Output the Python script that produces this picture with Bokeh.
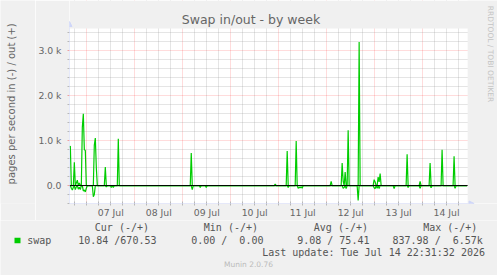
import math
import pandas as pd
from bokeh.plotting import figure
from bokeh.layouts import column, row
from bokeh.models import (Range1d, FixedTicker, Span, Label, BoxAnnotation,
                          Arrow, NormalHead)
from bokeh.embed import file_html
from bokeh.resources import INLINE

# ---------------- data ----------------
title_text = "Swap in/out - by week"
y_label = "pages per second in (-) / out (+)"
series_name = "swap"
series_color = "#00CC00"

range_start = "2026-07-06 15:20"
range_end = "2026-07-14 22:32"
y_min, y_max = -400, 3500

out_times = [
    "2026-07-06 15:15", "2026-07-06 15:45", "2026-07-06 16:15", "2026-07-06 17:15",
    "2026-07-06 17:45", "2026-07-06 18:15", "2026-07-06 18:45", "2026-07-06 19:15",
    "2026-07-06 19:45", "2026-07-06 20:15", "2026-07-06 20:45", "2026-07-06 21:15",
    "2026-07-06 21:45", "2026-07-06 22:15", "2026-07-06 22:45", "2026-07-06 23:15",
    "2026-07-06 23:45", "2026-07-07 03:15", "2026-07-07 03:45", "2026-07-07 04:15",
    "2026-07-07 04:45", "2026-07-07 05:15", "2026-07-07 08:45", "2026-07-07 09:15",
    "2026-07-07 09:45", "2026-07-07 15:15", "2026-07-07 15:45", "2026-07-07 16:15",
    "2026-07-09 03:45", "2026-07-09 04:15", "2026-07-09 04:45", "2026-07-10 21:45",
    "2026-07-10 22:15", "2026-07-10 22:45", "2026-07-11 03:45", "2026-07-11 04:15",
    "2026-07-11 04:45", "2026-07-11 08:15", "2026-07-11 08:45", "2026-07-11 09:15",
    "2026-07-12 01:45", "2026-07-12 02:15", "2026-07-12 02:45", "2026-07-12 07:15",
    "2026-07-12 07:45", "2026-07-12 08:15", "2026-07-12 08:45", "2026-07-12 09:15",
    "2026-07-12 09:45", "2026-07-12 10:15", "2026-07-12 10:45", "2026-07-12 11:15",
    "2026-07-12 15:45", "2026-07-12 16:15", "2026-07-12 16:45", "2026-07-12 23:15",
    "2026-07-12 23:45", "2026-07-13 00:15", "2026-07-13 00:45", "2026-07-13 01:15",
    "2026-07-13 01:45", "2026-07-13 02:15", "2026-07-13 02:45", "2026-07-13 03:15",
    "2026-07-13 15:45", "2026-07-13 16:15", "2026-07-13 16:45", "2026-07-13 22:15",
    "2026-07-13 22:45", "2026-07-13 23:15", "2026-07-14 03:15", "2026-07-14 03:45",
    "2026-07-14 04:15", "2026-07-14 09:15", "2026-07-14 09:45", "2026-07-14 10:15",
    "2026-07-14 15:15", "2026-07-14 15:45", "2026-07-14 16:15", "2026-07-14 22:15",
]
out_vals = [
    850, 880, 0, 0,
    520, 0, 60, 120,
    0, 60, 0, 0,
    1300, 1600, 800, 780,
    0, 0, 900, 1060,
    400, 0, 0, 410,
    0, 0, 1040, 0,
    0, 725, 0, 0,
    30, 0, 0, 770,
    0, 0, 990, 0,
    0, 95, 0, 0,
    500, 100, 0, 300,
    0, 0, 1230, 0,
    0, 3200, 0, 0,
    130, 80, 0, 0,
    190, 80, 265, 0,
    0, 695, 0, 0,
    95, 0, 0, 500,
    0, 0, 800, 0,
    0, 650, 0, 0,
]

in_times = [
    "2026-07-06 15:15", "2026-07-06 15:45", "2026-07-06 16:15", "2026-07-06 16:45",
    "2026-07-06 17:15", "2026-07-06 17:45", "2026-07-06 18:15", "2026-07-06 18:45",
    "2026-07-06 19:15", "2026-07-06 19:45", "2026-07-06 20:15", "2026-07-06 20:45",
    "2026-07-06 21:15", "2026-07-06 21:45", "2026-07-06 22:15", "2026-07-06 22:45",
    "2026-07-06 23:15", "2026-07-06 23:45", "2026-07-07 00:15", "2026-07-07 02:45",
    "2026-07-07 03:15", "2026-07-07 03:45", "2026-07-07 04:15", "2026-07-07 09:15",
    "2026-07-07 09:45", "2026-07-07 10:15", "2026-07-07 11:45", "2026-07-07 12:15",
    "2026-07-07 12:45", "2026-07-07 13:15", "2026-07-07 13:45", "2026-07-09 04:15",
    "2026-07-09 04:45", "2026-07-09 05:15", "2026-07-09 08:15", "2026-07-09 08:45",
    "2026-07-09 09:15", "2026-07-09 11:15", "2026-07-09 11:45", "2026-07-09 12:15",
    "2026-07-11 04:15", "2026-07-11 04:45", "2026-07-11 05:15", "2026-07-11 09:15",
    "2026-07-11 09:45", "2026-07-11 10:15", "2026-07-11 10:45", "2026-07-11 11:15",
    "2026-07-11 11:45", "2026-07-11 12:15", "2026-07-12 07:45", "2026-07-12 08:15",
    "2026-07-12 08:45", "2026-07-12 09:15", "2026-07-12 09:45", "2026-07-12 10:15",
    "2026-07-12 15:15", "2026-07-12 15:45", "2026-07-12 16:15", "2026-07-12 23:15",
    "2026-07-12 23:45", "2026-07-13 00:15", "2026-07-13 00:45", "2026-07-13 01:15",
    "2026-07-13 01:45", "2026-07-13 02:15", "2026-07-13 02:45", "2026-07-13 09:15",
    "2026-07-13 09:45", "2026-07-13 10:15", "2026-07-13 16:15", "2026-07-13 16:45",
    "2026-07-13 17:15", "2026-07-13 22:15", "2026-07-13 22:45", "2026-07-13 23:15",
    "2026-07-14 03:45", "2026-07-14 04:15", "2026-07-14 04:45", "2026-07-14 15:45",
    "2026-07-14 16:15", "2026-07-14 16:45", "2026-07-14 22:15",
]
in_vals = [
    0, 0, 60, 100,
    40, 0, 90, 30,
    0, 80, 40, 90,
    0, 0, 120, 100,
    140, 60, 0, 0,
    250, 200, 0, 0,
    30, 0, 0, 40,
    0, 40, 0, 0,
    90, 0, 0, 40,
    0, 0, 40, 0,
    0, 40, 0, 0,
    60, 40, 50, 30,
    60, 0, 0, 60,
    40, 0, 70, 0,
    0, 330, 0, 0,
    50, 70, 0, 60,
    0, 70, 0, 0,
    70, 0, 0, 40,
    0, 0, 60, 0,
    0, 50, 0, 0,
    60, 0, 0,
]

day_noons = ["2026-07-07 12:00", "2026-07-08 12:00", "2026-07-09 12:00", "2026-07-10 12:00",
             "2026-07-11 12:00", "2026-07-12 12:00", "2026-07-13 12:00", "2026-07-14 12:00"]
day_labels = ["07 Jul", "08 Jul", "09 Jul", "10 Jul", "11 Jul", "12 Jul", "13 Jul", "14 Jul"]

y_ticks = [0, 1000, 2000, 3000]
y_tick_labels = ["0.0", "1.0 k", "2.0 k", "3.0 k"]

NB = "\u00a0"  # keeps the fixed-width padding of the legend columns
legend_headers = ["Cur (-/+)", "Min (-/+)", "Avg (-/+)", "Max (-/+)"]
legend_values = ["10.84 /670.53", "0.00 /" + NB + " 0.00", "9.08 / 75.41",
                 "837.98 /" + NB + " 6.57k"]
last_update = "Last update: Tue Jul 14 22:31:32 2026"
munin_version = "Munin 2.0.76"
watermark = "RRDTOOL / TOBI OETIKER"


def ms(s):
    return int(pd.Timestamp(s).value // 1_000_000)


x_out = pd.to_datetime(out_times)
x_in = pd.to_datetime(in_times)
neg_in = [-v for v in in_vals]

# ---------------- layout constants (canvas pixels) ----------------
W, H = 497, 275
LAB_W = 35            # strip holding the vertical axis title
PL, PR, PT, PB = 67, 467, 28, 203   # data area in canvas pixels
TOP_H = 220           # height of chart part, legend below

xs, xe = ms(range_start), ms(range_end)
ms_per_px = (xe - xs) / (PR - PL)
val_per_px = (y_max - y_min) / (PB - PT)
frame_x_end = xe + (W - PR) * ms_per_px
frame_y_end = y_max + PT * val_per_px

HOUR = 3600 * 1000
t0 = ms("2026-07-06 00:00")
midnights = [t for t in (t0 + d * 24 * HOUR for d in range(10)) if xs <= t <= xe]
six_hours = [t for t in (t0 + k * 6 * HOUR for k in range(40) if k % 4 != 0) if xs <= t <= xe]
noon_ms = [ms(s) for s in day_noons]
y_minor = [v for v in range(-400, 3600, 200) if v not in y_ticks]

FONT = "DejaVu Sans"
MONO = "DejaVu Sans Mono"
TXT = "#666666"
LEG = "#555555"
AXIS = "#CFD6F8"
BG = "#F0F0F0"

# ---------------- axis-title strip ----------------
pl = figure(width=LAB_W, height=TOP_H, output_backend="svg", toolbar_location=None,
            x_range=Range1d(0, LAB_W), y_range=Range1d(TOP_H, 0),
            x_axis_location=None, y_axis_location=None, min_border=0)
pl.background_fill_color = BG
pl.border_fill_color = BG
pl.outline_line_color = None
pl.grid.grid_line_color = None
pl.add_layout(Label(x=10.5, y=112, text=y_label, text_font=FONT, text_font_size="10px",
                    text_color=TXT, text_align="center", text_baseline="middle",
                    angle=math.pi / 2))

# ---------------- main chart ----------------
p = figure(width=W - LAB_W, height=TOP_H, output_backend="svg", toolbar_location=None,
           x_axis_type="datetime",
           x_range=Range1d(xs, frame_x_end),
           y_range=Range1d(y_min, frame_y_end),
           min_border_left=PL - LAB_W, min_border_right=0,
           min_border_top=0, min_border_bottom=TOP_H - PB)
p.background_fill_color = "#FFFFFF"
p.border_fill_color = BG
p.outline_line_color = None

for g, tk in ((p.xgrid[0], FixedTicker(ticks=midnights, minor_ticks=six_hours)),
              (p.ygrid[0], FixedTicker(ticks=y_ticks, minor_ticks=y_minor))):
    g.ticker = tk
    g.grid_line_color = "#FF0000"
    g.grid_line_alpha = 0.28
    g.grid_line_dash = "1 1"
    g.minor_grid_line_color = "#8C8C8C"
    g.minor_grid_line_alpha = 0.45
    g.minor_grid_line_dash = "1 1"

xa = p.xaxis[0]
xa.ticker = FixedTicker(ticks=noon_ms, minor_ticks=six_hours + midnights)
xa.major_label_overrides = {t: lab for t, lab in zip(noon_ms, day_labels)}
xa.major_tick_line_color = None
xa.major_tick_out = 0
xa.major_tick_in = 0
xa.minor_tick_line_color = "#B8B8B8"
xa.minor_tick_in = 2
xa.minor_tick_out = 2
xa.axis_line_color = None
xa.major_label_standoff = 1
xa.major_label_text_font = FONT
xa.major_label_text_font_size = "9.3px"
xa.major_label_text_color = TXT

ya = p.yaxis[0]
ya.ticker = FixedTicker(ticks=y_ticks, minor_ticks=y_minor)
ya.major_label_overrides = {t: lab for t, lab in zip(y_ticks, y_tick_labels)}
ya.major_tick_line_color = "#F0A0A0"
ya.major_tick_in = 0
ya.major_tick_out = 2
ya.minor_tick_line_color = "#B8B8B8"
ya.minor_tick_in = 0
ya.minor_tick_out = 2
ya.axis_line_color = None
ya.major_label_standoff = 6
ya.major_label_text_font = FONT
ya.major_label_text_font_size = "9.3px"
ya.major_label_text_color = TXT

p.line(x_out, out_vals, line_color=series_color, line_width=1.2)
p.line(x_in, neg_in, line_color=series_color, line_width=1.2)
p.add_layout(Span(location=0, dimension="width", line_color="#000000", line_width=1))

# margins of the canvas outside the data area
p.add_layout(BoxAnnotation(bottom=y_max, fill_color=BG, fill_alpha=1.0, line_color=None))
p.add_layout(BoxAnnotation(left=xe, fill_color=BG, fill_alpha=1.0, line_color=None))

# axis lines with arrows
p.add_layout(Arrow(x_start=xs, y_start=y_min, x_end=xs, y_end=y_max + 7 * val_per_px,
                   line_color=AXIS, line_width=1,
                   end=NormalHead(size=5, fill_color=AXIS, line_color=AXIS)))
p.add_layout(Arrow(x_start=xs, y_start=y_min, x_end=xe + 6.5 * ms_per_px, y_end=y_min,
                   line_color=AXIS, line_width=1,
                   end=NormalHead(size=5, fill_color=AXIS, line_color=AXIS)))


def lab(fig, text, px, py, font=MONO, size="10px", color=LEG, align="left", angle=0):
    kw = dict(x=px - PL, y=PB - py, x_units="screen", y_units="screen",
              text=text, text_font=font, text_font_size=size,
              text_color=color, text_align=align, text_baseline="middle")
    if angle:
        kw["angle"] = angle
    fig.add_layout(Label(**kw))


lab(p, title_text, 248.5, 19, font=FONT, size="12.5px", color=TXT, align="center")
lab(p, watermark, 488, 53.5, font=FONT, size="7.5px", color="#C4C4C4", align="center",
    angle=-math.pi / 2)

# ---------------- legend / footer ----------------
LH = H - TOP_H
pf = figure(width=W, height=LH, output_backend="svg", toolbar_location=None,
            x_range=Range1d(0, W), y_range=Range1d(H, TOP_H),
            x_axis_location=None, y_axis_location=None, min_border=0)
pf.background_fill_color = BG
pf.border_fill_color = BG
pf.outline_line_color = None
pf.grid.grid_line_color = None


def flab(text, px, py, font=MONO, size="10px", color=LEG, align="left"):
    pf.add_layout(Label(x=px, y=py, text=text, text_font=font, text_font_size=size,
                        text_color=color, text_align=align, text_baseline="middle"))


for text, px in zip(legend_headers, [94.3, 203.3, 313.3, 422.7]):
    flab(text, px, 227.3)
pf.add_layout(BoxAnnotation(left=14, right=20, top=237.3, bottom=242.7,
                            fill_color=series_color, fill_alpha=1.0, line_color=None))
flab(series_name, 26.7, 240)
for text, px in zip(legend_values, [77.7, 190.7, 296.7, 392.0]):
    flab(text, px, 240)
flab(last_update, 261.7, 251.7)
flab(munin_version, 248, 264, font=FONT, size="7.5px", color="#BBBBBB", align="center")

layout = column(row(pl, p), pf)
open("out.html", "w").write(file_html(layout, INLINE))
